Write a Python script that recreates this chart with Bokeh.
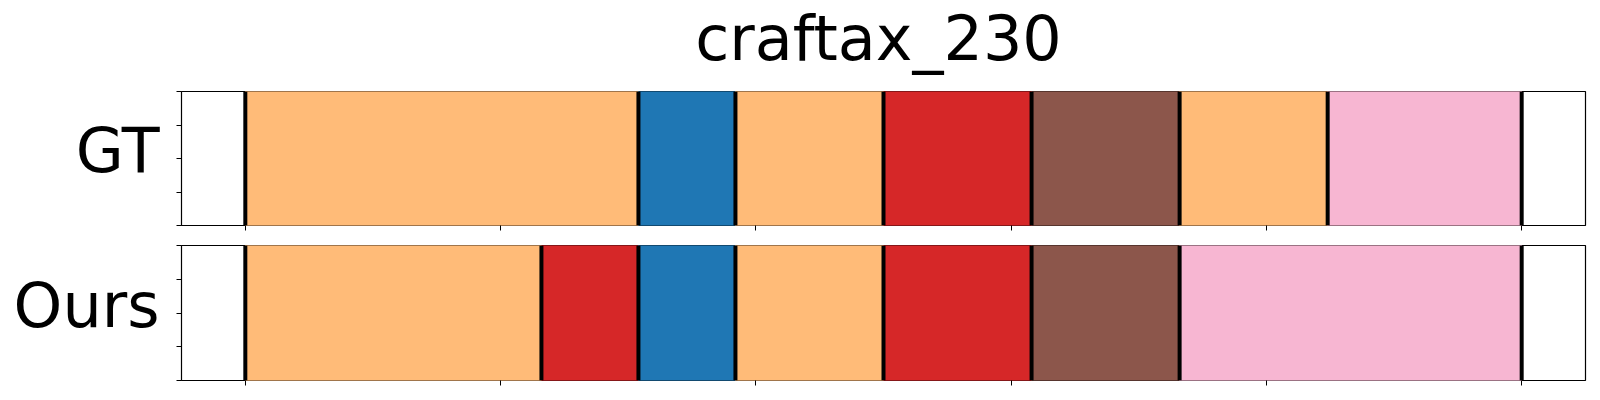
from bokeh.plotting import figure
from bokeh.layouts import column, row
from bokeh.models import (Range1d, FixedTicker, ColumnDataSource,
                          CustomLabelingPolicy)
from bokeh.core.properties import value
from bokeh.embed import file_html
from bokeh.resources import INLINE

# ---- data ----
title_text = "craftax_230"
row_names = ["GT", "Ours"]
# class id -> colour (tab20 indices)
class_colors = {0: "#1f77b4", 3: "#ffbb78", 6: "#d62728", 10: "#8c564b", 13: "#f7b6d2"}

gt_bounds = [0, 77, 96, 125, 154, 183, 212, 250]
gt_classes = [3, 0, 3, 6, 10, 3, 13]

ours_bounds = [0, 58, 77, 96, 125, 154, 183, 250]
ours_classes = [3, 6, 0, 3, 6, 10, 13]

x_ticks = [0, 50, 100, 150, 200, 250]
y_ticks = [0, 0.25, 0.5, 0.75, 1.0]
x_lo, x_hi = -12.5, 262.5

FONT = "DejaVu Sans"
LABEL_W = 171
PANEL_LEFT = 10
PANEL_RIGHT = 6
FRAME_W = 1404
TITLE_H = 89
TOTAL_W = LABEL_W + PANEL_LEFT + FRAME_W + PANEL_RIGHT
TEXT_SHIFT = 25  # px: compensates the svg baseline placement

NO_LABELS = """
const all = [...indices];
for (const i of all) indices.unset(i);
return indices;
"""


def blank_fig(w, h, xr, yr, top=0, bottom=0):
    f = figure(
        output_backend="svg", toolbar_location=None,
        frame_width=w, frame_height=h, x_range=xr, y_range=yr,
        min_border_left=0, min_border_right=0,
        min_border_top=top, min_border_bottom=bottom,
    )
    f.axis.visible = False
    f.grid.visible = False
    f.outline_line_color = None
    f.background_fill_color = "white"
    f.border_fill_color = "white"
    return f


def style_axis(ax, ticks):
    ax.ticker = FixedTicker(ticks=ticks)
    ax.major_label_policy = CustomLabelingPolicy(code=NO_LABELS)
    ax.major_label_text_font_size = "0px"
    ax.major_label_standoff = 0
    ax.minor_tick_line_color = None
    ax.major_tick_out = 5
    ax.major_tick_in = 0
    ax.major_tick_line_color = "black"
    ax.major_tick_line_width = 1
    ax.axis_line_color = None


def make_title():
    tf = blank_fig(TOTAL_W, TITLE_H, Range1d(0, TOTAL_W), Range1d(0, TITLE_H))
    tf.text(x=[LABEL_W + PANEL_LEFT + FRAME_W / 2 - 5],
            y=[TITLE_H - 62.7 + TEXT_SHIFT],
            text=[title_text], text_align="center", text_baseline="alphabetic",
            text_font=value(FONT), text_font_size="62px", text_color="black")
    return tf


def make_label(name, frame_h, top_border, bottom_border):
    lf = blank_fig(LABEL_W, frame_h, Range1d(0, LABEL_W), Range1d(0, 1),
                   top_border, bottom_border)
    lf.text(x=[LABEL_W - 12], y=[(50 + TEXT_SHIFT) / frame_h], text=[name],
            text_align="right", text_baseline="alphabetic",
            text_font=value(FONT), text_font_size="62px", text_color="black")
    return lf


def make_panel(bounds, classes, frame_h, top_border, bottom_border):
    p = figure(
        output_backend="svg", toolbar_location=None,
        frame_width=FRAME_W, frame_height=frame_h,
        x_range=Range1d(x_lo, x_hi), y_range=Range1d(0, 1),
        min_border_left=PANEL_LEFT, min_border_right=PANEL_RIGHT,
        min_border_top=top_border, min_border_bottom=bottom_border,
    )
    src = ColumnDataSource(dict(
        left=bounds[:-1], right=bounds[1:],
        color=[class_colors[c] for c in classes],
    ))
    p.quad(left="left", right="right", bottom=0, top=1, fill_color="color",
           line_color="color", line_width=1, source=src)
    p.segment(x0=bounds, y0=[0] * len(bounds), x1=bounds, y1=[1] * len(bounds),
              line_color="black", line_width=4)

    p.grid.visible = False
    p.background_fill_color = "white"
    p.border_fill_color = "white"
    p.outline_line_color = "black"
    p.outline_line_width = 1.2

    style_axis(p.xaxis[0], x_ticks)
    style_axis(p.yaxis[0], y_ticks)
    return p


H1, T1, B1 = 134, 2, 10
H2, T2, B2 = 135, 10, 12

tf = make_title()
p1 = make_panel(gt_bounds, gt_classes, H1, T1, B1)
p2 = make_panel(ours_bounds, ours_classes, H2, T2, B2)
l1 = make_label(row_names[0], H1, T1, B1)
l2 = make_label(row_names[1], H2, T2, B2)

layout = column(tf, row(l1, p1, spacing=0), row(l2, p2, spacing=0), spacing=0)
open("out.html", "w").write(file_html(layout, INLINE))
